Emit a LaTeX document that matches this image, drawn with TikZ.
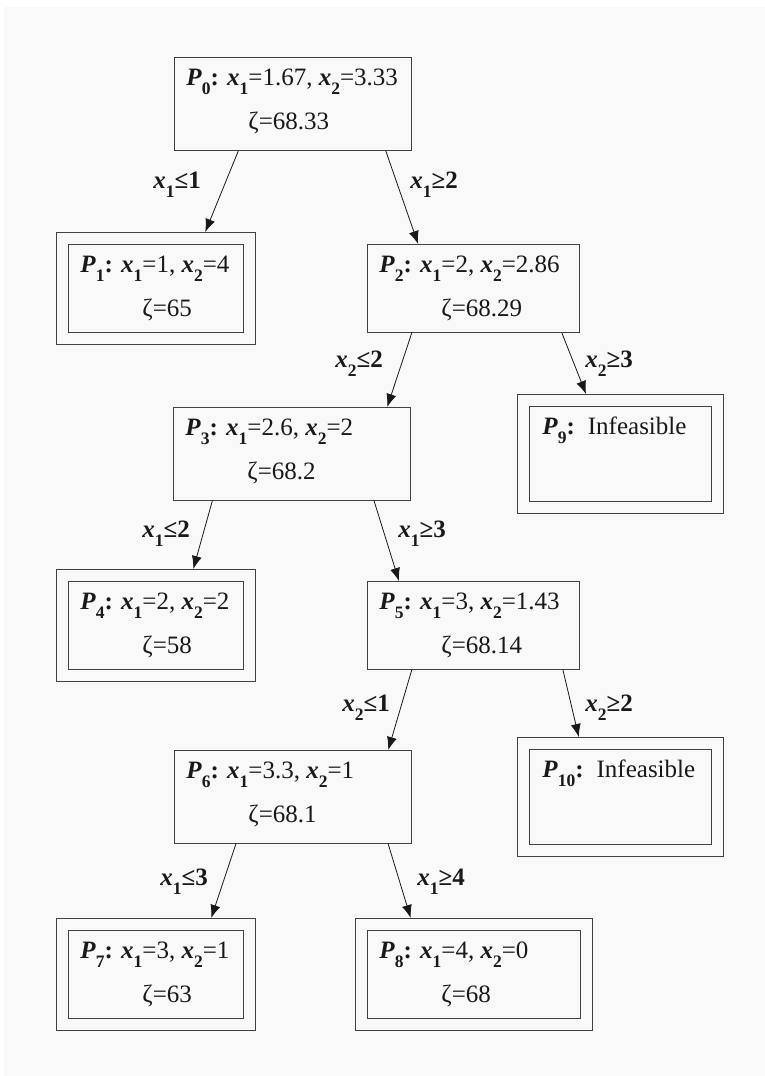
\documentclass[tikz,border=0pt]{standalone}
\usepackage{fontspec}
\setmainfont{Liberation Serif}
\usetikzlibrary{arrows.meta,calc}

\definecolor{pagebg}{RGB}{249,249,249}
\definecolor{boxline}{RGB}{65,65,65}
\definecolor{ink}{RGB}{25,25,25}

% bold italic variable with bold subscript
\newcommand{\bvar}[2]{\textbf{\textit{#1}}\raisebox{-4.5pt}{\fontsize{8.75}{10}\selectfont\bfseries #2}}

\tikzset{
  box/.style={draw=boxline, line width=0.5pt, anchor=north west, inner sep=0pt},
  leafbox/.style={box, double=pagebg, double distance=5.5pt, outer sep=3pt},
  widebox/.style={minimum width=118.5pt, minimum height=46.5pt},
  narrowbox/.style={minimum width=106pt, minimum height=44pt},
  txt/.style={anchor=base west, inner sep=0pt},
  cutlabel/.style={txt, font=\fontsize{12.5}{15}\selectfont\bfseries},
  branch/.style={draw=ink, line width=0.4pt, -{Latex[length=6.5pt,width=5pt]}}
}

\begin{document}
\begin{tikzpicture}[x=0.5pt, y=-0.5pt, font=\fontsize{12.5}{15}\selectfont, text=ink]
    \useasboundingbox (0,0) rectangle (765,1076);
    \fill[white] (0,0) rectangle (765,1076);
    \fill[pagebg] (4,7) rectangle (765,1076);

    % Subproblems still branched
    \node[box, widebox] (P0) at (174,57) {};
    \node[txt] (P0a) at ([shift={(12,28)}]P0.north west) {\bvar{P}{0}\textbf{:} \bvar{x}{1}=1.67, \bvar{x}{2}=3.33};
    \node[txt] (P0b) at ([shift={(74,72)}]P0.north west) {ζ=68.33};

    \node[box, narrowbox] (P2) at (367,244) {};
    \node[txt] (P2a) at ([shift={(12,28)}]P2.north west) {\bvar{P}{2}\textbf{:} \bvar{x}{1}=2, \bvar{x}{2}=2.86};
    \node[txt] (P2b) at ([shift={(74,72)}]P2.north west) {ζ=68.29};

    \node[box, widebox] (P3) at (173,407) {};
    \node[txt] (P3a) at ([shift={(12,28)}]P3.north west) {\bvar{P}{3}\textbf{:} \bvar{x}{1}=2.6, \bvar{x}{2}=2};
    \node[txt] (P3b) at ([shift={(74,72)}]P3.north west) {ζ=68.2};

    \node[box, narrowbox] (P5) at (367,581) {};
    \node[txt] (P5a) at ([shift={(12,28)}]P5.north west) {\bvar{P}{5}\textbf{:} \bvar{x}{1}=3, \bvar{x}{2}=1.43};
    \node[txt] (P5b) at ([shift={(74,72)}]P5.north west) {ζ=68.14};

    \node[box, widebox] (P6) at (174,750) {};
    \node[txt] (P6a) at ([shift={(12,28)}]P6.north west) {\bvar{P}{6}\textbf{:} \bvar{x}{1}=3.3, \bvar{x}{2}=1};
    \node[txt] (P6b) at ([shift={(74,72)}]P6.north west) {ζ=68.1};

    % Fathomed subproblems (double frame)
    \node[leafbox, minimum width=93.5pt, minimum height=50pt] (P1) at (56,232) {};
    \node[txt] (P1a) at ([shift={(24,40)}]P1.north west) {\bvar{P}{1}\textbf{:} \bvar{x}{1}=1, \bvar{x}{2}=4};
    \node[txt] (P1b) at ([shift={(86,84)}]P1.north west) {ζ=65};

    \node[leafbox, minimum width=97pt, minimum height=53.5pt] (P9) at (517,394) {};
    \node[txt] (P9a) at ([shift={(25,40)}]P9.north west) {\bvar{P}{9}\textbf{:}\hspace{6.5pt}Infeasible};

    \node[leafbox, minimum width=93.5pt, minimum height=50pt] (P4) at (56,569) {};
    \node[txt] (P4a) at ([shift={(24,40)}]P4.north west) {\bvar{P}{4}\textbf{:} \bvar{x}{1}=2, \bvar{x}{2}=2};
    \node[txt] (P4b) at ([shift={(86,84)}]P4.north west) {ζ=58};

    \node[leafbox, minimum width=97pt, minimum height=53.5pt] (P10) at (517,737) {};
    \node[txt] (P10a) at ([shift={(25,40)}]P10.north west) {\bvar{P}{10}\textbf{:}\hspace{6.5pt}Infeasible};

    \node[leafbox, minimum width=93.5pt, minimum height=50pt] (P7) at (56,918) {};
    \node[txt] (P7a) at ([shift={(24,40)}]P7.north west) {\bvar{P}{7}\textbf{:} \bvar{x}{1}=3, \bvar{x}{2}=1};
    \node[txt] (P7b) at ([shift={(86,84)}]P7.north west) {ζ=63};

    \node[leafbox, minimum width=112.5pt, minimum height=50pt] (P8) at (355,918) {};
    \node[txt] (P8a) at ([shift={(24,40)}]P8.north west) {\bvar{P}{8}\textbf{:} \bvar{x}{1}=4, \bvar{x}{2}=0};
    \node[txt] (P8b) at ([shift={(86,84)}]P8.north west) {ζ=68};

    % Branches
    \draw[branch] ($(P0.south west)!0.27!(P0.south east)$) -- ($(P1.north west)!0.75!(P1.north east)$);
    \draw[branch] ($(P0.south west)!0.89!(P0.south east)$) -- ($(P2.north west)!0.24!(P2.north east)$);
    \draw[branch] ($(P2.south west)!0.21!(P2.south east)$) -- ($(P3.north west)!0.90!(P3.north east)$);
    \draw[branch] ($(P2.south west)!0.915!(P2.south east)$) -- ($(P9.north west)!0.335!(P9.north east)$);
    \draw[branch] ($(P3.south west)!0.165!(P3.south east)$) -- ($(P4.north west)!0.69!(P4.north east)$);
    \draw[branch] ($(P3.south west)!0.845!(P3.south east)$) -- ($(P5.north west)!0.15!(P5.north east)$);
    \draw[branch] ($(P5.south west)!0.21!(P5.south east)$) -- ($(P6.north west)!0.90!(P6.north east)$);
    \draw[branch] ($(P5.south west)!0.92!(P5.south east)$) -- ($(P10.north west)!0.30!(P10.north east)$);
    \draw[branch] ($(P6.south west)!0.26!(P6.south east)$) -- ($(P7.north west)!0.78!(P7.north east)$);
    \draw[branch] ($(P6.south west)!0.90!(P6.south east)$) -- ($(P8.north west)!0.235!(P8.north east)$);

    % Branching constraints
    \node[cutlabel] (c01) at (153,188) {\bvar{x}{1}≤1};
    \node[cutlabel] (c02) at (410,188) {\bvar{x}{1}≥2};
    \node[cutlabel] (c23) at (335,367) {\bvar{x}{2}≤2};
    \node[cutlabel] (c29) at (585,367) {\bvar{x}{2}≥3};
    \node[cutlabel] (c34) at (142,537) {\bvar{x}{1}≤2};
    \node[cutlabel] (c35) at (398,537) {\bvar{x}{1}≥3};
    \node[cutlabel] (c56) at (342,711) {\bvar{x}{2}≤1};
    \node[cutlabel] (c510) at (585,711) {\bvar{x}{2}≥2};
    \node[cutlabel] (c67) at (160,885) {\bvar{x}{1}≤3};
    \node[cutlabel] (c68) at (417,885) {\bvar{x}{1}≥4};
\end{tikzpicture}
\end{document}
